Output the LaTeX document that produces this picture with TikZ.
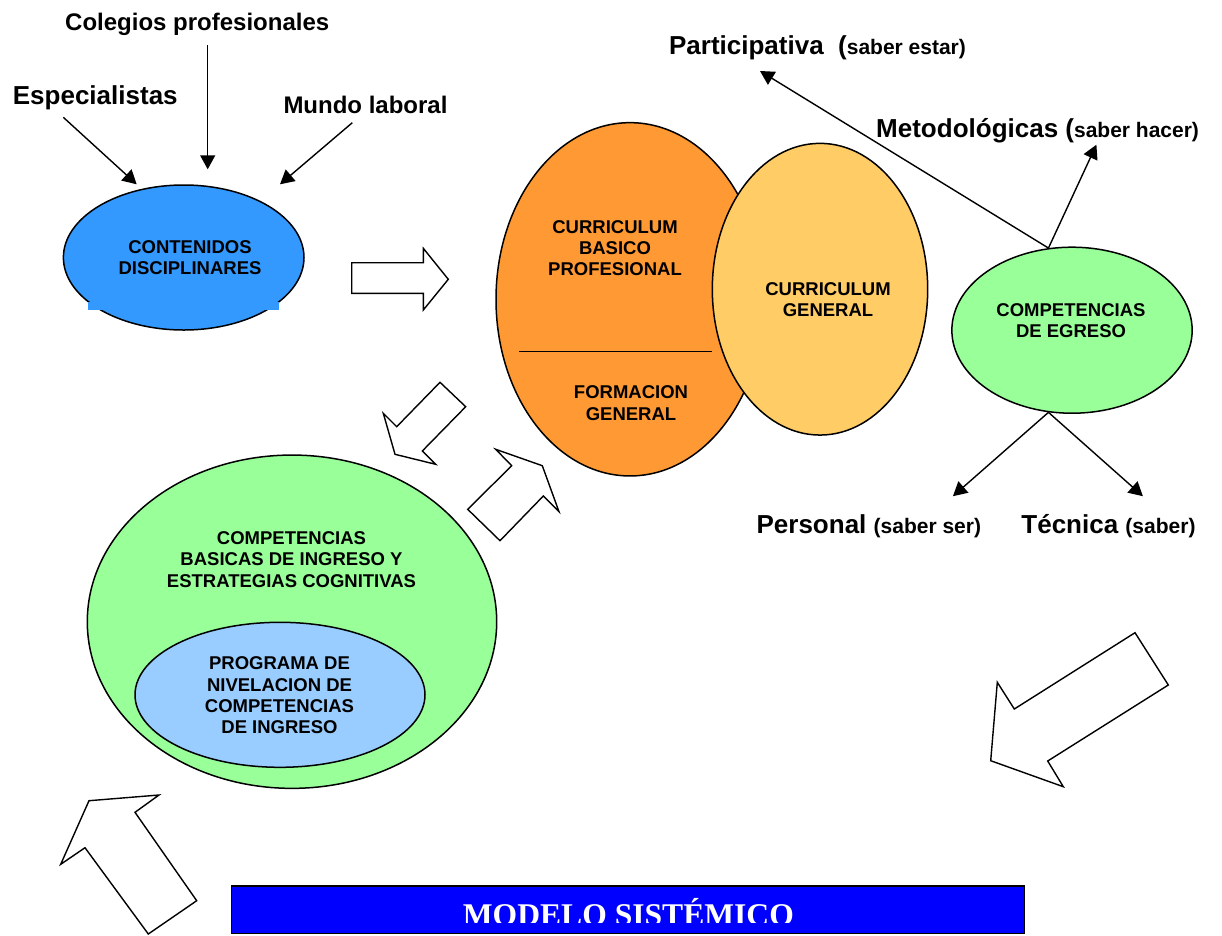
\documentclass[tikz,border=0pt]{standalone}
\usepackage{fontspec}
\setmainfont{Liberation Sans}
\newfontfamily\serifbf{Liberation Serif}
\usetikzlibrary{shapes.geometric,arrows.meta}

\definecolor{azulcont}{HTML}{3399FF}
\definecolor{naranja}{HTML}{FF9933}
\definecolor{amarillo}{HTML}{FFCC66}
\definecolor{verde}{HTML}{99FF99}
\definecolor{celeste}{HTML}{99CCFF}
\newcommand{\chico}[1]{{\fontsize{21}{24}\selectfont #1}}

\begin{document}
\begin{tikzpicture}[x=1pt, y=-1pt,
	elipse/.style={ellipse, draw, line width=1.5pt, inner sep=0pt},
	txt/.style={font=\bfseries\fontsize{18.5}{21.3}\selectfont, align=center, inner sep=0pt},
	titulo/.style={font=\bfseries\fontsize{26}{30}\selectfont, inner sep=0pt, anchor=base west},
	flecha/.style={line width=1.4pt, -{Triangle[length=14pt,width=15pt]}},
	bloque/.style={draw, fill=white, line width=1.4pt}]
	\useasboundingbox (0,0) rectangle (1222,935);

	% contenidos
	\node[elipse, fill=azulcont, minimum width=240.6pt, minimum height=145pt] (contenidos) at (183.7,257.5) {};
	\fill[azulcont] (88.3,301.7) rectangle (279.3,310);
	\node[txt] (contenidos-txt) at (190,257.9) {CONTENIDOS\\DISCIPLINARES};

	\node[titulo, font=\bfseries\fontsize{24}{28}\selectfont] (colegios) at (65,30.7) {Colegios profesionales};
	\node[titulo] (especialistas) at (12.7,104) {Especialistas};
	\node[titulo, font=\bfseries\fontsize{24}{28}\selectfont] (mundo) at (283.3,113.3) {Mundo laboral};

	\coordinate (esp-cola) at (63.3,117.3);
	\coordinate (esp-punta) at (136.7,184.3);
	\coordinate (col-cola) at (207.7,45);
	\coordinate (col-punta) at (207.7,169.3);
	\coordinate (mun-cola) at (352.3,122.7);
	\coordinate (mun-punta) at (280,184.3);
	\draw[flecha] (esp-cola) -- (esp-punta);
	\draw[flecha] (col-cola) -- (col-punta);
	\draw[flecha] (mun-cola) -- (mun-punta);

	% curriculum
	\node[elipse, fill=naranja, minimum width=268pt, minimum height=353.3pt] (basico) at (630,299.3) {};
	\coordinate (div-izq) at (519.3,351.7);
	\coordinate (div-der) at (712.3,351.7);
	\draw[line width=1.4pt] (div-izq) -- (div-der);
	\node[txt] (basico-txt) at (615,248) {CURRICULUM\\BASICO\\PROFESIONAL};
	\node[txt] (formacion-txt) at (631,403.2) {FORMACION\\GENERAL};
	\node[elipse, fill=amarillo, minimum width=215.4pt, minimum height=291.7pt] (general) at (820,289.2) {};
	\node[txt] (general-txt) at (828,299.5) {CURRICULUM\\GENERAL};

	% competencias de egreso
	\node[elipse, fill=verde, minimum width=240.3pt, minimum height=166pt] (egreso) at (1072,330.2) {};
	\node[txt] (egreso-txt) at (1071,320.5) {COMPETENCIAS\\DE EGRESO};

	\node[titulo] (participativa) at (668.9,54.4) {Participativa\ \ (\chico{saber estar)}};
	\node[titulo] (metodologicas) at (876,137.1) {Metodológicas (\chico{saber hacer)}};
	\node[titulo] (personal) at (756.4,533.1) {Personal \chico{(saber ser)}};
	\node[titulo, anchor=base east] (tecnica) at (1195.7,533.1) {Técnica \chico{(saber)}};

	\coordinate (par-punta) at (760,71);
	\coordinate (met-punta) at (1096.4,144.7);
	\coordinate (per-punta) at (952.9,496.2);
	\coordinate (tec-punta) at (1142.9,496.2);
	\draw[flecha] (egreso.106) -- (par-punta);
	\draw[flecha] (egreso.106) -- (met-punta);
	\draw[flecha] (egreso.254) -- (per-punta);
	\draw[flecha] (egreso.254) -- (tec-punta);

	% competencias de ingreso
	\node[elipse, fill=verde, minimum width=409.4pt, minimum height=333.3pt] (ingreso) at (292,621.7) {};
	\node[txt] (ingreso-txt) at (291.5,559.5) {COMPETENCIAS\\BASICAS DE INGRESO Y\\ESTRATEGIAS COGNITIVAS};
	\node[elipse, fill=celeste, minimum width=290pt, minimum height=145pt] (nivelacion) at (280,694.8) {};
	\node[txt] (nivelacion-txt) at (279.5,695.3) {PROGRAMA DE\\NIVELACION DE\\COMPETENCIAS\\DE INGRESO};

	% flechas huecas
	\draw[bloque] (351.7,262.7) -- (423.3,262.7) -- (423.3,248.3) -- (448.3,279.3) -- (423.3,310) -- (423.3,293.3) -- (351.7,293.3) -- cycle;
	\draw[bloque] (440,382.3) -- (465.7,406.7) -- (422.3,451) -- (435.7,464.3) -- (395,454.3) -- (383.3,413.3) -- (396.7,426.7) -- cycle;
	\draw[bloque] (467.7,509.3) -- (511.7,465.7) -- (495.7,449.3) -- (542.3,465.7) -- (559,511.7) -- (543.3,496) -- (500,540.7) -- cycle;
	\draw[bloque] (1135,632.7) -- (1168.3,685) -- (1047.7,761) -- (1063.3,786.7) -- (990.7,760.7) -- (997.3,682.3) -- (1014.3,709) -- cycle;
	\draw[bloque] (89,800.7) -- (159,795) -- (135,812.3) -- (196.7,900.7) -- (148.3,934) -- (85,847.7) -- (60.7,864.3) -- cycle;

	% titulo
	\node[draw, fill=blue, line width=1.6pt, minimum width=792.9pt, minimum height=47.6pt, inner sep=0pt] (modelo) at (628,909.5) {};
	\begin{scope}
		\clip (231.5,885.7) rectangle (1024.4,922.7);
		\node[anchor=base, inner sep=0pt, text=white, font=\serifbf\bfseries\fontsize{31.6}{36}\selectfont] (modelo-txt) at (628.4,925.2) {MODELO SISTÉMICO};
	\end{scope}
\end{tikzpicture}
\end{document}
